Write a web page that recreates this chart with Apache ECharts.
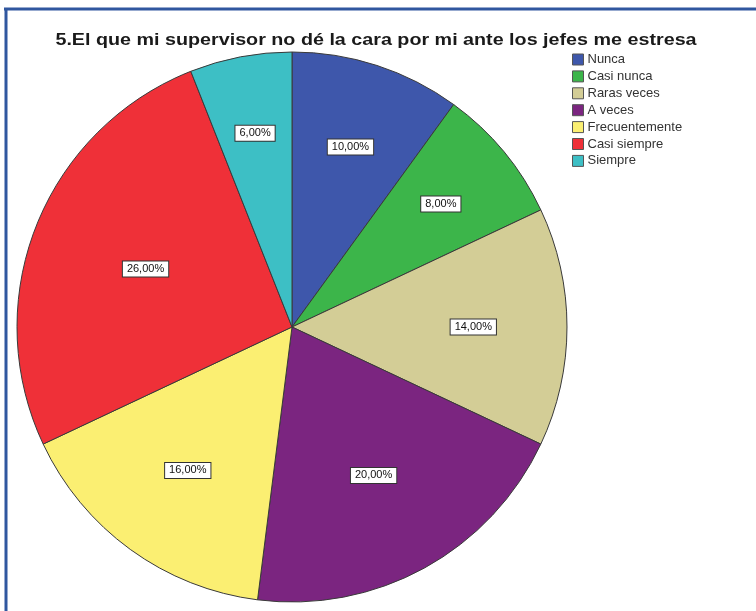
<!DOCTYPE html>
<html>
<head>
<meta charset="utf-8">
<title>Pie chart</title>
<script src="https://cdn.jsdelivr.net/npm/echarts@6/dist/echarts.min.js"></script>
<style>
  html, body { margin: 0; padding: 0; background: #ffffff; }
  #chart { width: 756px; height: 611px; }
</style>
</head>
<body>
<div id="chart"></div>
<script>
// Answer categories and their share of responses (%)
const categories = ['Nunca', 'Casi nunca', 'Raras veces', 'A veces', 'Frecuentemente', 'Casi siempre', 'Siempre'];
const percentages = [10, 8, 14, 20, 16, 26, 6];
const sliceColors = ['#3e57ab', '#3cb54a', '#d3cd96', '#7b2580', '#fbef72', '#ef3038', '#3dbfc5'];
const chartTitle = '5.El que mi supervisor no dé la cara por mi ante los jefes me estresa';

const CENTER = [292, 327];
const RADIUS = 275;
const total = percentages.reduce((a, b) => a + b, 0);
const FONT = 'Liberation Sans, Arial, sans-serif';

// Labels of wide sectors sit a little closer to the centre
function labelRadius(value) {
  const sweepDeg = 360 * value / total;
  return RADIUS * (0.76 - 0.002 * sweepDeg);
}

const chart = echarts.init(document.getElementById('chart'), null, { renderer: 'canvas' });

chart.setOption({
  animation: false,
  backgroundColor: '#ffffff',
  color: sliceColors,
  legend: {
    orient: 'vertical',
    left: 572,
    top: 53,
    icon: 'rect',
    itemWidth: 11,
    itemHeight: 11,
    itemGap: 3.9,
    padding: 0,
    data: categories,
    itemStyle: { borderColor: '#555555', borderWidth: 1 },
    textStyle: {
      fontFamily: FONT,
      fontSize: 13,
      color: '#333333',
      padding: [0, 0, 0, -1]
    }
  },
  graphic: [
    // heading, slightly widened
    {
      type: 'text',
      x: 376,
      y: 40,
      scaleX: 1.16,
      style: {
        text: chartTitle,
        font: 'bold 17px ' + FONT,
        fill: '#1a1a1a',
        textAlign: 'center',
        textVerticalAlign: 'middle'
      }
    },
    // frame edges
    { type: 'line', shape: { x1: 4, y1: 9, x2: 756, y2: 9 }, style: { stroke: '#30579f', lineWidth: 3 }, z: 100 },
    { type: 'line', shape: { x1: 6, y1: 8, x2: 6, y2: 611 }, style: { stroke: '#30579f', lineWidth: 3 }, z: 100 }
  ],
  series: [{
    type: 'pie',
    center: CENTER,
    radius: RADIUS,
    startAngle: 90,
    clockwise: true,
    avoidLabelOverlap: false,
    silent: true,
    itemStyle: { borderColor: '#3a3a3a', borderWidth: 1 },
    label: {
      show: true,
      position: 'inside',
      formatter: p => p.value.toFixed(2).replace('.', ',') + '%',
      fontFamily: FONT,
      fontSize: 11,
      color: '#111111',
      backgroundColor: '#ffffff',
      borderColor: '#333333',
      borderWidth: 1,
      padding: [2, 4, 2, 4]
    },
    labelLine: { show: false },
    // push each label outward along its sector's bisector
    labelLayout: function (params) {
      const r = params.labelRect;
      const lx = r.x + r.width / 2;
      const ly = r.y + r.height / 2;
      const vx = lx - CENTER[0];
      const vy = ly - CENTER[1];
      const d = Math.sqrt(vx * vx + vy * vy) || 1;
      const target = labelRadius(percentages[params.dataIndex]);
      return {
        dx: vx / d * target - vx,
        dy: vy / d * target - vy
      };
    },
    data: categories.map((name, i) => ({ name: name, value: percentages[i] }))
  }]
});
</script>
</body>
</html>
